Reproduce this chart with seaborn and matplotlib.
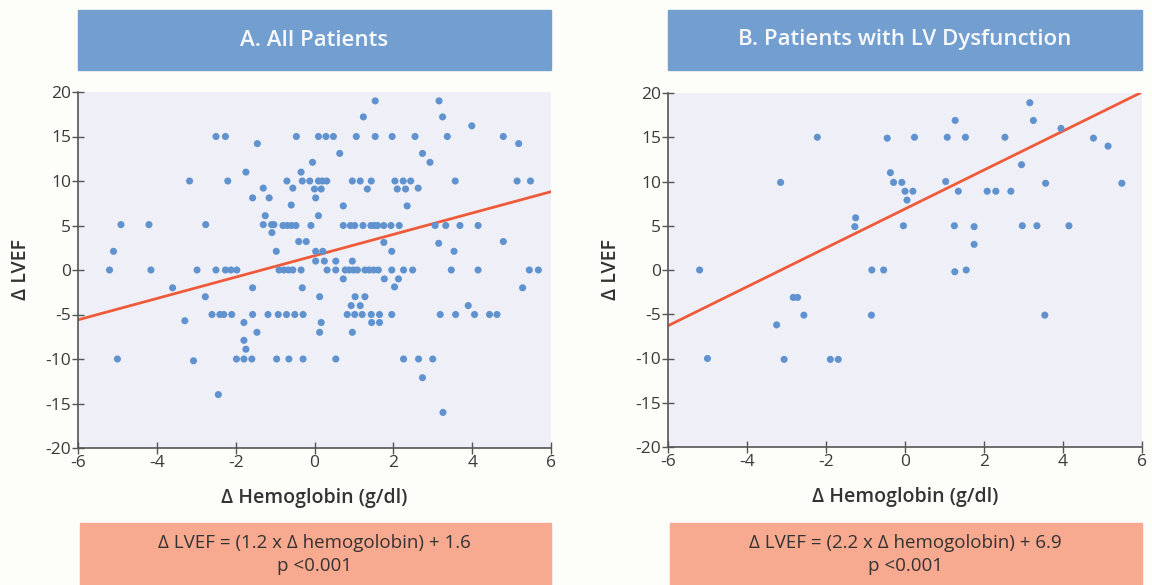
import matplotlib.pyplot as plt
import matplotlib.patches as mpatches
import pandas as pd
import seaborn as sns

# Panel A - all patients (delta hemoglobin, delta LVEF)
hb_a = [1.54, 3.16, 1.24, 3.25, 3.99,
        -2.5, -2.26, -0.46, 0.1, 0.29, 0.48, 1.06, 1.54, 1.97, 2.55, 3.37, 4.79,
        -1.45, 5.18, 0.64, 2.74, -0.05, 2.93, -1.74, -0.34,
        -3.17, -2.2, -0.70, -0.31, -0.12, 0.1, 0.2, 0.31, 0.96, 1.16, 1.44, 2.04, 2.25, 2.44, 3.57, 5.14, 5.48,
        -1.30, -0.55, 0.0, 0.17, 1.34, 2.1, 2.31, 2.63,
        -1.57, -1.15, 0.03, -0.59, 0.73, 2.35, -1.25, 0.1,
        -4.91, -4.2, -2.76, -1.30, -1.09, -1.03, -0.80, -0.69, -0.58, -0.47, -0.09, 0.73, 0.91, 1.02, 1.23,
        1.43, 1.52, 1.6, 1.76, 1.94, 2.15, 3.06, 3.33, 3.69, 4.15,
        -1.08, -0.40, -0.21, 1.76, 3.15, 4.79,
        -5.1, -0.97, 0.03, 0.21, 1.96, 3.54,
        0.03, 0.25, 0.54, 0.96,
        -5.2, -4.15, -2.98, -2.5, -2.26, -2.12, -1.97, -0.90, -0.78, -0.66, -0.55, -0.34, 0.32, 0.54, 0.78,
        0.88, 0.99, 1.09, 1.28, 1.39, 1.50, 1.62, 1.96, 2.26, 2.49, 3.47, 4.15, 5.45, 5.68,
        0.73, 1.77, 2.13,
        -3.6, -1.57, -0.31, 2.03, 5.28,
        -2.77, 0.13, 1.03, 1.28,
        0.93, 1.16, 3.9,
        -2.6, -2.4, -2.3, -2.1, -1.57, -1.18, -0.92, -0.71, -0.50, -0.29, 0.83, 1.02, 1.21, 1.44, 1.65,
        1.96, 3.19, 3.58, 4.06, 4.44, 4.63,
        -3.29, -1.79, 0.17, 1.45, 1.65,
        -1.46, 0.13, 0.96, -1.79, -1.74,
        -5.0, -3.07, -1.98, -1.79, -1.59, -0.96, -0.65, -0.29, 0.54, 2.26, 2.64, 3.0,
        2.74, -2.44, 3.26]
lvef_a = [19, 19, 17.2, 17.2, 16.2,
          15, 15, 15, 15, 15, 15, 15, 15, 15, 15, 15, 15,
          14.2, 14.2, 13.1, 13.1, 12.1, 12.1, 11, 11,
          10, 10, 10, 10, 10, 10, 10, 10, 10, 10, 10, 10, 10, 10, 10, 10, 10,
          9.2, 9.2, 9.1, 9.1, 9.1, 9.1, 9.1, 9.2,
          8.1, 8.1, 8.1, 7.3, 7.2, 7.2, 6.1, 6.1,
          5.1, 5.1, 5.1, 5.1, 5.1, 5.1, 5, 5, 5, 5, 5, 5, 5, 5, 5,
          5, 5, 5, 5, 5, 5, 5, 5, 5, 5,
          4.2, 3.2, 3.2, 3.1, 3.0, 3.2,
          2.1, 2.1, 2.1, 2.1, 2.1, 2.1,
          1, 1, 1, 1,
          0, 0, 0, 0, 0, 0, 0, 0, 0, 0, 0, 0, 0, 0, 0,
          0, 0, 0, 0, 0, 0, 0, 0, 0, 0, 0, 0, 0, 0,
          -1, -1, -1,
          -2, -2, -2, -1.9, -2,
          -3, -3, -3, -3,
          -4, -4, -4,
          -5, -5, -5, -5, -5, -5, -5, -5, -5, -5, -5, -5, -5, -5, -5,
          -5, -5, -5, -5, -5, -5,
          -5.7, -5.9, -5.9, -5.9, -5.9,
          -7, -7, -7, -7.9, -8.9,
          -10, -10.2, -10, -10, -10, -10, -10, -10, -10, -10, -10, -10,
          -12.1, -14, -16]

# Panel B - patients with LV dysfunction
hb_b = [-5.2, -5.0, -2.22, -3.15, -3.25, -3.06, -2.83, -2.72, -2.56, -1.89, -1.69,
        -1.25, -1.27, -0.84, -0.54, -0.85, -0.45, -0.37, -0.29, -0.08, 0.0, 0.2, 0.05, -0.04,
        0.24, 1.07, 1.27, 1.53, 2.53, 3.16, 3.25, 3.95, 4.77, 5.14,
        1.03, 1.35, 2.08, 2.30, 2.68, 2.95, 3.56, 5.49,
        1.25, 1.75, 2.97, 3.34, 4.15, 1.75, 1.26, 1.55, 3.54]
lvef_b = [0, -10, 15, 9.9, -6.2, -10.1, -3.1, -3.1, -5.1, -10.1, -10.1,
          5.9, 4.9, 0, 0, -5.1, 14.9, 11, 9.9, 9.9, 8.9, 8.9, 7.9, 5.0,
          15, 15, 16.9, 15, 15, 18.9, 16.9, 16.0, 14.9, 14.0,
          10, 8.9, 8.9, 8.9, 8.9, 11.9, 9.8, 9.8,
          5.0, 4.9, 5, 5, 5, 2.9, -0.2, 0, -5.1]

panels = [
    dict(x=hb_a, y=lvef_a, slope=1.2, intercept=1.6, title='A. All Patients',
         eq='\u0394 LVEF = (1.2 x \u0394 hemogolobin) + 1.6'),
    dict(x=hb_b, y=lvef_b, slope=2.2, intercept=6.9, title='B. Patients with LV Dysfunction',
         eq='\u0394 LVEF = (2.2 x \u0394 hemogolobin) + 6.9'),
]
x_ticks = [-6, -4, -2, 0, 2, 4, 6]
y_ticks = [-20, -15, -10, -5, 0, 5, 10, 15, 20]

sns.set_style('ticks', {'axes.facecolor': '#eff0f7', 'axes.edgecolor': '#555555'})
plt.rcParams['font.family'] = ['Open Sans', 'DejaVu Sans']
plt.rcParams['axes.unicode_minus'] = False

W, H = 1152, 585
fig = plt.figure(figsize=(W / 100, H / 100), dpi=100, facecolor='#fdfdfa')

boxes = [(78, 551, 92, 448), (668, 1142, 93, 447)]
for p, (l, r, t, b) in zip(panels, boxes):
    ax = fig.add_axes([l / W, 1 - b / H, (r - l) / W, (b - t) / H])
    df = pd.DataFrame({'hb': p['x'], 'lvef': p['y']})
    sns.scatterplot(data=df, x='hb', y='lvef', ax=ax, color='#5f92cf', s=26,
                    edgecolor='none', zorder=3)
    ax.axline((0, p['intercept']), slope=p['slope'], color='#ef5a3a', lw=2, zorder=2)
    ax.set_xlim(-6, 6)
    ax.set_ylim(-20, 20)
    ax.set_xticks(x_ticks)
    ax.set_yticks(y_ticks)
    ax.tick_params(direction='inout', length=8, width=1, colors='#555555',
                   labelcolor='#3a3a3a', labelsize=12.5, pad=1)
    sns.despine(ax=ax)
    ax.spines['left'].set_linewidth(1.2)
    ax.spines['bottom'].set_linewidth(1.2)
    ax.set_xlabel('\u0394 Hemoglobin (g/dl)', fontsize=14, color='#333333',
                  fontweight='semibold', labelpad=12)
    ax.set_ylabel('\u0394 LVEF', fontsize=14, color='#333333',
                  fontweight='semibold', labelpad=10)

    # title banner
    fig.patches.append(mpatches.Rectangle((l / W, 1 - 70 / H), (r - l) / W, 60 / H,
                                          transform=fig.transFigure, color='#739fd0', zorder=0))
    fig.text((l + r) / 2 / W, 1 - 40 / H, p['title'], ha='center', va='center',
             color='#f8f9fc', fontsize=16, fontweight='semibold')

    # equation box
    fig.patches.append(mpatches.Rectangle(((l + 2) / W, 0), (r - l - 2) / W, 62 / H,
                                          transform=fig.transFigure, color='#f7aa90', zorder=0))
    fig.text((l + r) / 2 / W, 1 - 543 / H, p['eq'], ha='center', va='center',
             color='#333333', fontsize=13.5)
    fig.text((l + r) / 2 / W, 1 - 566 / H, 'p <0.001', ha='center', va='center',
             color='#333333', fontsize=13.5)

fig.savefig('out.png', dpi=100, facecolor=fig.get_facecolor())
